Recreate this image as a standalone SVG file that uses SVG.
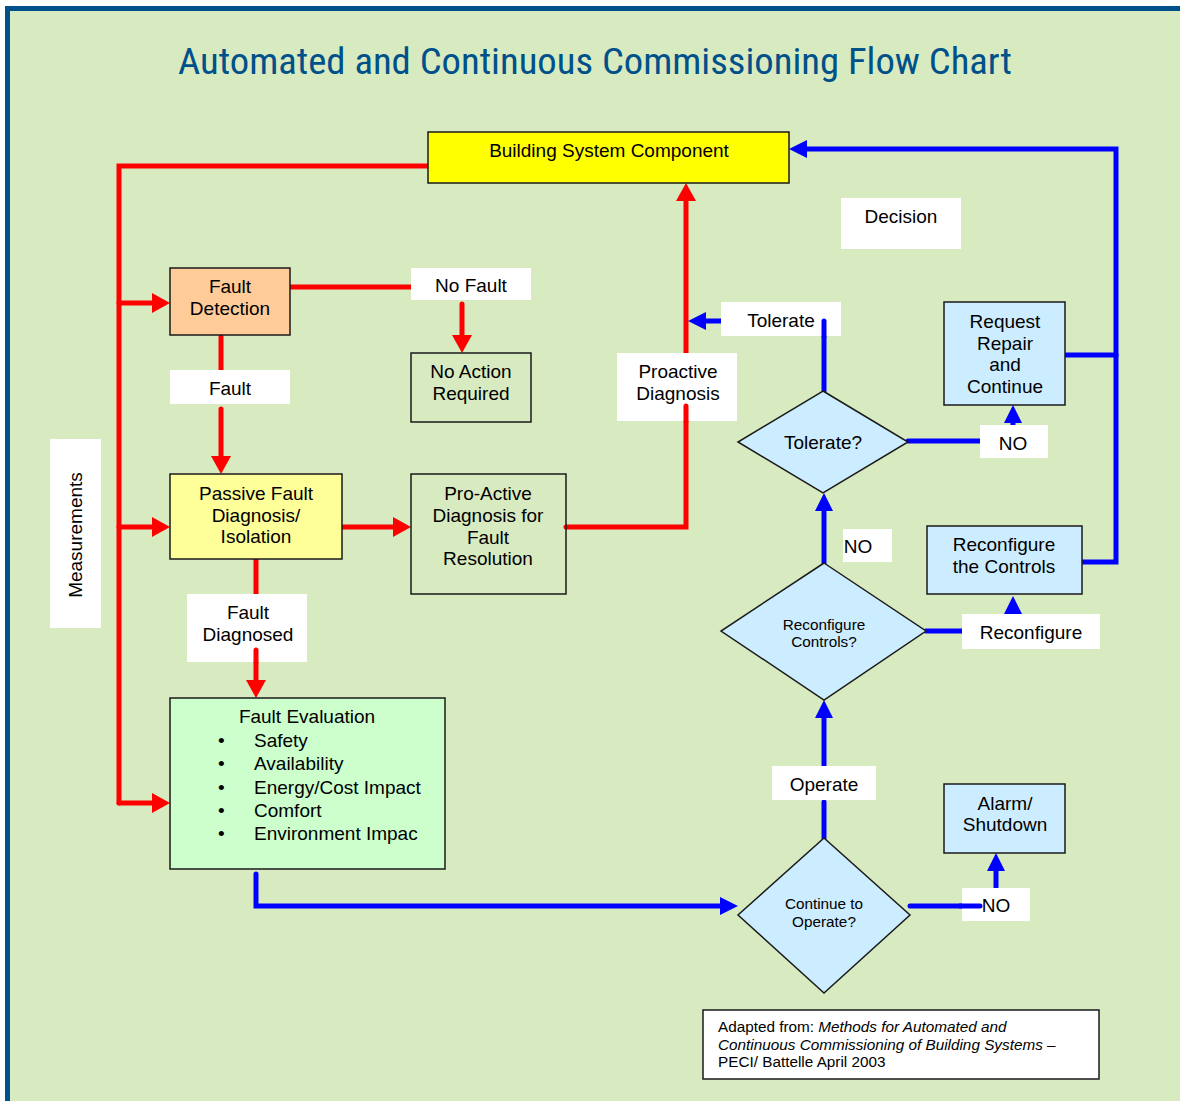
<svg xmlns="http://www.w3.org/2000/svg" width="1180" height="1101" viewBox="0 0 1180 1101">
<style>
text{font-family:"Liberation Sans",Arial,sans-serif;fill:#000;}
.t{font-size:19px;text-anchor:middle;}
.s{font-size:15.3px;text-anchor:middle;}
.box{stroke:#1a1a1a;stroke-width:1.5;}
.lbl{fill:#fff;}
.r{fill:none;stroke:#ff0000;stroke-width:5;stroke-linecap:round;}
.b{fill:none;stroke:#0000ff;stroke-width:5;stroke-linecap:round;}
.ra{marker-end:url(#arR);}
.ba{marker-end:url(#arB);}
</style>
<defs>
<marker id="arR" markerUnits="userSpaceOnUse" markerWidth="20" markerHeight="22" refX="6" refY="11" orient="auto"><path d="M0,1 L18,11 L0,21 z" fill="#ff0000"/></marker>
<marker id="arB" markerUnits="userSpaceOnUse" markerWidth="20" markerHeight="22" refX="6" refY="11" orient="auto"><path d="M0,2 L18,11 L0,20 z" fill="#0000ff"/></marker>
</defs>
<rect x="0" y="0" width="1180" height="1101" fill="#fff"/>
<rect x="7.5" y="8.5" width="1200" height="1120" fill="#D8EAC0" stroke="#00518A" stroke-width="5"/>
<text x="595" y="74" style="font-family:'Liberation Sans Narrow','Roboto Condensed','DejaVu Sans Condensed',sans-serif;font-size:36px;fill:#00518A;text-anchor:middle" textLength="834" lengthAdjust="spacingAndGlyphs">Automated and Continuous Commissioning Flow Chart</text>

<g id="connectors">
<polyline class="r" points="428,166 119,166 119,803"/>
<line class="r ra" x1="119" y1="303" x2="158" y2="303"/>
<line class="r ra" x1="119" y1="527" x2="158" y2="527"/>
<line class="r ra" x1="119" y1="803" x2="158" y2="803"/>
<line class="r" x1="290" y1="287" x2="430" y2="287"/>
<line class="r ra" x1="462" y1="304" x2="462" y2="341"/>
<line class="r" x1="221" y1="337" x2="221" y2="372"/>
<line class="r ra" x1="221" y1="409" x2="221" y2="462"/>
<line class="r ra" x1="342" y1="527" x2="399" y2="527"/>
<polyline class="r" points="566,527 686,527 686,406"/>
<line class="r ra" x1="686" y1="353" x2="686" y2="195"/>
<line class="r" x1="256" y1="560" x2="256" y2="596"/>
<line class="r ra" x1="256" y1="650" x2="256" y2="686"/>
<polyline class="b ba" points="256,874 256,906 726,906"/>
<line class="b" x1="910" y1="906" x2="980" y2="906"/>
<line class="b ba" x1="996" y1="887" x2="996" y2="865"/>
<line class="b" x1="824" y1="838" x2="824" y2="802"/>
<line class="b ba" x1="824" y1="766" x2="824" y2="712"/>
<line class="b" x1="926" y1="631" x2="962" y2="631"/>
<line class="b ba" x1="1013" y1="614" x2="1013" y2="608"/>
<line class="b ba" x1="824" y1="563" x2="824" y2="505"/>
<line class="b" x1="908" y1="441" x2="980" y2="441"/>
<line class="b ba" x1="1013" y1="425" x2="1013" y2="417"/>
<line class="b" x1="824" y1="391" x2="824" y2="321"/>
<line class="b ba" x1="738" y1="321" x2="700" y2="321"/>
<polyline class="b ba" points="1082,562 1116,562 1116,149 801,149"/>
<line class="b" x1="1065" y1="355" x2="1116" y2="355"/>
</g>

<g id="building-system-component">
<rect class="box" x="428" y="132" width="361" height="51" fill="#FFFF00"/>
<text class="t" x="609" y="157">Building System Component</text>
</g>
<g id="fault-detection">
<rect class="box" x="170" y="268" width="120" height="67" fill="#FFCC99"/>
<text class="t" x="230" y="293">Fault</text>
<text class="t" x="230" y="315">Detection</text>
</g>
<g id="label-no-fault">
<rect class="lbl" x="411" y="268" width="120" height="32"/>
<text class="t" x="471" y="292">No Fault</text>
</g>
<g id="no-action-required">
<rect class="box" x="411" y="353" width="120" height="69" fill="none"/>
<text class="t" x="471" y="378">No Action</text>
<text class="t" x="471" y="400">Required</text>
</g>
<g id="label-fault">
<rect class="lbl" x="170" y="370" width="120" height="34"/>
<text class="t" x="230" y="395">Fault</text>
</g>
<g id="passive-fault-diagnosis">
<rect class="box" x="170" y="474" width="172" height="85" fill="#FFFF99"/>
<text class="t" x="256" y="500">Passive Fault</text>
<text class="t" x="256" y="522">Diagnosis/</text>
<text class="t" x="256" y="543">Isolation</text>
</g>
<g id="pro-active-diagnosis">
<rect class="box" x="411" y="474" width="155" height="120" fill="none"/>
<text class="t" x="488" y="500">Pro-Active</text>
<text class="t" x="488" y="522">Diagnosis for</text>
<text class="t" x="488" y="544">Fault</text>
<text class="t" x="488" y="565">Resolution</text>
</g>
<g id="label-proactive-diagnosis">
<rect class="lbl" x="617" y="353" width="120" height="68"/>
<text class="t" x="678" y="378">Proactive</text>
<text class="t" x="678" y="400">Diagnosis</text>
</g>
<line class="r" x1="686" y1="406" x2="686" y2="421"/>
<g id="label-fault-diagnosed">
<rect class="lbl" x="187" y="594" width="120" height="68"/>
<text class="t" x="248" y="619">Fault</text>
<text class="t" x="248" y="641">Diagnosed</text>
</g>
<line class="r" x1="256" y1="650" x2="256" y2="662"/>
<g id="fault-evaluation">
<rect class="box" x="170" y="698" width="275" height="171" fill="#CCFFCC"/>
<text class="t" x="307" y="723">Fault Evaluation</text>
<g style="font-size:19px">
<text x="218" y="747">•</text><text x="254" y="747">Safety</text>
<text x="218" y="770">•</text><text x="254" y="770">Availability</text>
<text x="218" y="794">•</text><text x="254" y="794">Energy/Cost Impact</text>
<text x="218" y="817">•</text><text x="254" y="817">Comfort</text>
<text x="218" y="840">•</text><text x="254" y="840">Environment Impac</text>
</g>
</g>
<g id="label-measurements">
<rect class="lbl" x="50" y="439" width="51" height="189"/>
<text x="82" y="535" transform="rotate(-90 82 535)" style="font-size:19px;text-anchor:middle">Measurements</text>
</g>
<g id="label-decision">
<rect class="lbl" x="841" y="198" width="120" height="51"/>
<text class="t" x="901" y="223">Decision</text>
</g>
<g id="label-tolerate">
<rect class="lbl" x="721" y="302" width="120" height="34"/>
<text class="t" x="781" y="327">Tolerate</text>
</g>
<line class="b" x1="824" y1="321" x2="824" y2="336"/>
<g id="request-repair">
<rect class="box" x="944" y="302" width="121" height="103" fill="#CCECFF"/>
<text class="t" x="1005" y="328">Request</text>
<text class="t" x="1005" y="350">Repair</text>
<text class="t" x="1005" y="371">and</text>
<text class="t" x="1005" y="393">Continue</text>
</g>
<g id="tolerate-decision">
<polygon class="box" points="823,391 908,442 823,493 738,442" fill="#CCECFF"/>
<text class="t" x="823" y="449">Tolerate?</text>
</g>
<g id="label-no-1">
<rect class="lbl" x="980" y="425" width="68" height="33"/>
<text class="t" x="1013" y="450">NO</text>
</g>
<g id="label-no-2">
<rect class="lbl" x="843" y="529" width="49" height="33"/>
<text class="t" x="858" y="553">NO</text>
</g>
<g id="reconfigure-the-controls">
<rect class="box" x="927" y="526" width="155" height="68" fill="#CCECFF"/>
<text class="t" x="1004" y="551">Reconfigure</text>
<text class="t" x="1004" y="573">the Controls</text>
</g>
<g id="reconfigure-decision">
<polygon class="box" points="824,563 926,631 824,700 721,631" fill="#CCECFF"/>
<text class="s" x="824" y="630">Reconfigure</text>
<text class="s" x="824" y="647">Controls?</text>
</g>
<g id="label-reconfigure">
<rect class="lbl" x="962" y="614" width="138" height="35"/>
<text class="t" x="1031" y="639">Reconfigure</text>
</g>
<g id="label-operate">
<rect class="lbl" x="772" y="766" width="104" height="34"/>
<text class="t" x="824" y="791">Operate</text>
</g>
<g id="alarm-shutdown">
<rect class="box" x="944" y="784" width="121" height="69" fill="#CCECFF"/>
<text class="t" x="1005" y="810">Alarm/</text>
<text class="t" x="1005" y="831">Shutdown</text>
</g>
<g id="continue-decision">
<polygon class="box" points="824,838 910,915 824,993 738,915" fill="#CCECFF"/>
<text class="s" x="824" y="909">Continue to</text>
<text class="s" x="824" y="927">Operate?</text>
</g>
<g id="label-no-3">
<rect class="lbl" x="962" y="888" width="68" height="33"/>
<text class="t" x="996" y="912">NO</text>
</g>
<line class="b" x1="960" y1="906" x2="980" y2="906"/>
<g id="caption">
<rect class="box" x="703" y="1010" width="396" height="69" fill="#fff"/>
<text x="718" y="1032" style="font-size:15.3px">Adapted from: <tspan font-style="italic">Methods for Automated and</tspan></text>
<text x="718" y="1050" style="font-size:15.3px;font-style:italic">Continuous Commissioning of Building Systems –</text>
<text x="718" y="1067" style="font-size:15.3px">PECI/ Battelle April 2003</text>
</g>
</svg>
